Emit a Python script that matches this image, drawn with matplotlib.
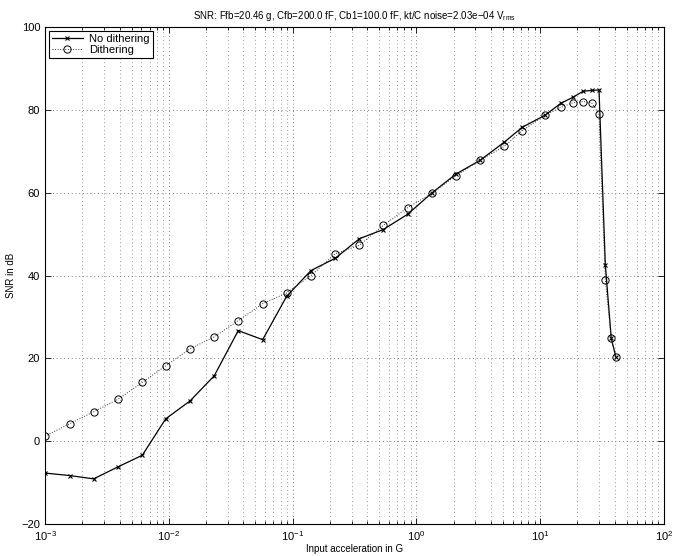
import matplotlib
matplotlib.use("Agg")
import matplotlib.pyplot as plt
from matplotlib.ticker import LogLocator, NullFormatter

plt.rcParams['font.family'] = ['Liberation Sans', 'DejaVu Sans']
plt.rcParams['mathtext.fontset'] = 'custom'
plt.rcParams['mathtext.rm'] = 'Liberation Sans'
plt.rcParams['mathtext.it'] = 'Liberation Sans'
plt.rcParams['mathtext.default'] = 'regular'

# Data
accel_g = [0.001, 0.00158, 0.00247, 0.00389, 0.00611, 0.00944, 0.01483, 0.0233,
           0.0364, 0.0573, 0.0896, 0.1408, 0.222, 0.347, 0.540, 0.851, 1.329,
           2.089, 3.264, 5.13, 7.17, 10.93, 14.72, 18.30, 22.28, 26.06, 29.86,
           33.57, 37.5, 40.9]
snr_no_dither = [-7.7, -8.3, -9.1, -6.2, -3.4, 5.4, 9.7, 15.8, 26.7, 24.5, 35.0,
                 41.2, 44.2, 48.9, 51.1, 54.8, 59.9, 64.5, 67.8, 72.2, 75.8, 78.7,
                 81.6, 83.0, 84.5, 84.7, 84.8, 42.6, 24.8, 20.3]
snr_dither = [1.2, 4.2, 7.1, 10.1, 14.2, 18.2, 22.3, 25.2, 29.1, 33.2, 35.8, 40.0,
              45.3, 47.3, 52.1, 56.4, 59.8, 64.1, 67.8, 71.2, 75.0, 78.7, 80.6,
              81.7, 82.0, 81.7, 78.9, 39.0, 24.8, 20.3]
y_ticks = [-20, 0, 20, 40, 60, 80, 100]
title = "SNR: Ffb=20.46 g, Cfb=200.0 fF, Cb1=100.0 fF, kt/C noise=2.03e\u221204 V$_{rms}$"

fig = plt.figure(figsize=(6.83, 5.56), dpi=100)
ax = fig.add_axes([45/683, 1-524/556, (664-45)/683, (524-27)/556])

ax.plot(accel_g, snr_no_dither, color='black', linestyle='-', linewidth=0.9,
        marker='x', markersize=3.5, markeredgewidth=0.8, label='No dithering')
ax.plot(accel_g, snr_dither, color='#333333', linestyle=':', linewidth=0.7,
        marker='o', markersize=5.2, markerfacecolor='none', markeredgecolor='black',
        markeredgewidth=0.7, label='Dithering')

ax.set_xscale('log')
ax.set_xlim(1e-3, 1e2)
ax.set_ylim(-20, 100)
ax.set_yticks(y_ticks)
ax.xaxis.set_major_locator(LogLocator(base=10, numticks=10))
ax.xaxis.set_minor_locator(LogLocator(base=10, subs=range(2, 10), numticks=50))
ax.xaxis.set_minor_formatter(NullFormatter())

ax.grid(True, which='major', axis='both', linestyle=(0, (1, 3.5)), color='#555555', linewidth=0.6)
ax.grid(True, which='minor', axis='x', linestyle=(0, (1, 3.5)), color='#777777', linewidth=0.6)

ax.tick_params(which='both', direction='in', top=True, right=True, labelsize=8, width=0.6)
ax.tick_params(which='major', length=4)
ax.tick_params(which='minor', length=2.5)
for s in ax.spines.values():
    s.set_linewidth(0.8)

ax.set_title(title, fontsize=7, pad=6)
ax.set_xlabel('Input acceleration in G', fontsize=7, labelpad=1)
ax.set_ylabel('SNR in dB', fontsize=7, labelpad=4)

leg = ax.legend(loc='upper left', fontsize=8, frameon=True, fancybox=False,
                edgecolor='black', framealpha=1, borderaxespad=0.35,
                handlelength=2.8, handletextpad=0.6, borderpad=0.25, labelspacing=0.15)
leg.get_frame().set_linewidth(0.8)

fig.savefig('out.png', dpi=100)
